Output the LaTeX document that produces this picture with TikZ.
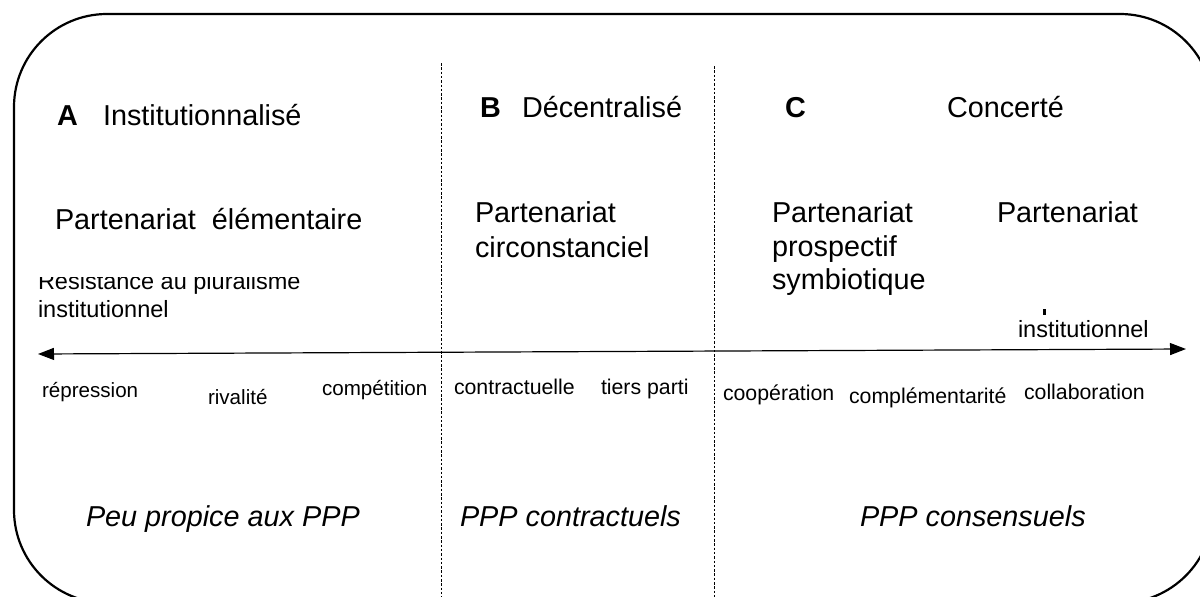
\documentclass[tikz,border=0pt]{standalone}
\usepackage{fontspec}
\setmainfont{Liberation Sans}
\usetikzlibrary{arrows.meta}
\tikzset{
  lbl/.style={anchor=base west, inner sep=0pt, outer sep=0pt},
  head/.style={lbl, font=\fontsize{28.8}{34}\selectfont},
  headb/.style={lbl, font=\fontsize{28.8}{34}\selectfont\bfseries},
  big/.style={lbl, font=\fontsize{28.8}{34}\selectfont},
  mid/.style={lbl, font=\fontsize{23.5}{28}\selectfont},
  smalla/.style={lbl, font=\fontsize{20.6}{24}\selectfont},
  smallb/.style={lbl, font=\fontsize{21.3}{25}\selectfont},
  ital/.style={lbl, font=\fontsize{28.8}{34}\selectfont\itshape},
  sepline/.style={dash pattern=on 2.5pt off 1.8pt, line width=0.9pt},
  frame/.style={line width=2.2pt, rounded corners=93pt},
  axis/.style={line width=1.2pt, {Triangle[length=16pt,width=12pt]}-{Triangle[length=16pt,width=12pt]}}
}
\begin{document}
\begin{tikzpicture}[x=1pt,y=-1pt]
\useasboundingbox (0,0) rectangle (1200,597);
\clip (0,0) rectangle (1200,597);
\draw[frame] (14,14) rectangle (1213,603);
% separators
\coordinate (s1t) at (441,63);
\coordinate (s1b) at (441,597);
\coordinate (s2t) at (714,66);
\coordinate (s2b) at (714,597);
\draw[sepline] (s1t) -- (s1b);
\draw[sepline] (s2t) -- (s2b);
% axis
\coordinate (axL) at (38,354);
\coordinate (axR) at (1186,349);
\draw[axis] (axL) -- (axR);
% headings
\node[headb] (hA) at (57,125) {A};
\node[head] (tA) at (103,125) {Institutionnalisé};
\node[headb] (hB) at (480,117) {B};
\node[head] (tB) at (522,117) {Décentralisé};
\node[headb] (hC) at (785,117) {C};
\node[head] (tC) at (947,117) {Concerté};
% partenariats
\node[big] (pA) at (55,229) {Partenariat\ \ élémentaire};
\node[big] (pB1) at (475,222) {Partenariat};
\node[big] (pB2) at (475,257) {circonstanciel};
\node[big] (pC1) at (772,222) {Partenariat};
\node[big] (pC2) at (772,256) {prospectif};
\node[big] (pC3) at (772,289) {symbiotique};
\node[big] (pD1) at (997,222) {Partenariat};
% resistance
\begin{scope}
\clip (30,277) rectangle (330,330);
\node[mid] (r1) at (38,289) {Résistance au pluralisme};
\end{scope}
\node[mid] (r2) at (38,317) {institutionnel};
\fill (1043,309) rectangle (1045.5,315);
\node[mid] (r3) at (1018,337) {institutionnel};
% bottom words
\node[smalla] (w1) at (42,397) {répression};
\node[smalla] (w2) at (208,404) {rivalité};
\node[smalla] (w3) at (322,395) {compétition};
\node[smallb] (w4) at (454,394) {contractuelle};
\node[smallb] (w5) at (601,394) {tiers parti};
\node[smallb] (w6) at (723,400) {coopération};
\node[smallb] (w7) at (849,403) {complémentarité};
\node[smallb] (w8) at (1024,399) {collaboration};
% conclusions
\node[ital] (c1) at (86,526) {Peu propice aux PPP};
\node[ital] (c2) at (460,526) {PPP contractuels};
\node[ital] (c3) at (860,526) {PPP consensuels};
\end{tikzpicture}
\end{document}
